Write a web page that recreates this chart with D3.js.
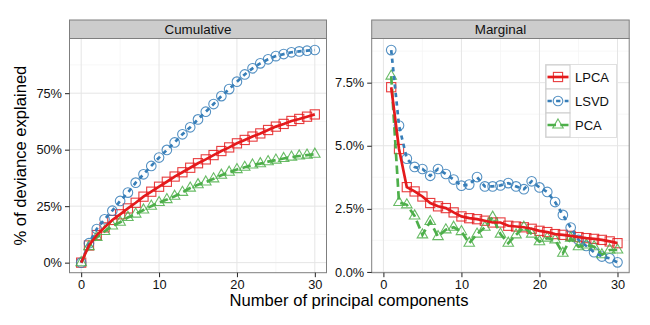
<!DOCTYPE html>
<html><head><meta charset="utf-8">
<script src="https://cdn.jsdelivr.net/npm/d3@7"></script>
<style>body{margin:0;background:#fff}svg{display:block}text{font-family:"Liberation Sans",Arial,sans-serif}</style>
</head><body>
<svg id="c" width="650" height="325"></svg>
<script>
// ---- data (percent) ----
const methods = ["LPCA","LSVD","PCA"];
const cumX = [0,1,2,3,4,5,6,7,8,9,10,11,12,13,14,15,16,17,18,19,20,21,22,23,24,25,26,27,28,29,30];
const margX = [1,2,3,4,5,6,7,8,9,10,11,12,13,14,15,16,17,18,19,20,21,22,23,24,25,26,27,28,29,30];
const cumLPCA = [0,7.6,12.2,15.6,18.9,21.4,24.0,26.5,29.2,31.4,33.6,35.8,38.1,40.0,42.0,44.0,45.7,47.6,49.4,51.0,52.8,54.3,55.8,57.2,58.7,60.2,61.4,62.7,63.6,64.6,65.6];
const cumLSVD = [0,8.6,14.9,19.2,23.0,27.3,31.0,35.4,39.1,42.8,46.5,49.9,53.2,56.8,59.9,63.4,66.8,70.2,73.7,76.8,80.1,83.3,86.0,88.2,90.0,91.4,92.3,93.1,93.5,93.8,94.1];
const cumPCA = [0,7.1,11.2,13.8,16.2,17.9,20.0,21.5,23.3,25.0,26.6,27.9,29.4,31.1,33.0,34.5,35.7,37.1,38.7,40.0,41.2,42.2,43.2,43.8,44.7,45.4,46.1,46.7,47.2,47.6,48.0];
const margLPCA = [7.32,4.87,3.36,3.19,2.99,2.73,2.60,2.53,2.36,2.20,2.13,2.09,2.03,1.96,1.96,1.83,1.80,1.77,1.71,1.63,1.58,1.50,1.47,1.43,1.38,1.34,1.31,1.27,1.21,1.14];
const margLSVD = [8.79,5.80,4.49,4.16,4.08,3.81,4.08,3.88,3.66,3.42,3.46,3.76,3.39,3.39,3.43,3.52,3.39,3.28,3.59,3.35,3.17,2.77,2.26,1.76,1.27,1.03,0.78,0.61,0.54,0.38];
const margPCA = [7.76,2.75,2.66,2.22,1.47,2.00,1.40,1.67,1.77,1.60,1.14,1.50,1.77,2.17,1.50,1.14,1.47,1.77,1.50,1.20,1.34,1.27,0.74,1.34,1.00,1.07,1.00,0.68,0.87,0.87];
const xTicks = [0,10,20,30];
const yTicksL = [0,25,50,75];
const yTicksR = [0,2.5,5,7.5];
const yLabelsL = ["0%","25%","50%","75%"];
const yLabelsR = ["0.0%","2.5%","5.0%","7.5%"];

// ---- styles ----
const colors = {LPCA:"#E41A1C", LSVD:"#377EB8", PCA:"#4DAF4A"};
const dashes = {LPCA:null, LSVD:"4.3,4.3", PCA:"8.5,4.3"};
const svg = d3.select("#c");

const pTop = 38.5, pBottom = 272.7;
const panels = [
  {title:"Cumulative", x0:69.5, x1:326.5, ydom:[-4.45,99.2], ticks:yTicksL, labels:yLabelsL,
   minor:[12.5,37.5,62.5,87.5], xs:cumX, data:{LPCA:cumLPCA,LSVD:cumLSVD,PCA:cumPCA}},
  {title:"Marginal", x0:371.7, x1:629.2, ydom:[-0.03,9.25], ticks:yTicksR, labels:yLabelsR,
   minor:[1.25,3.75,6.25,8.75], xs:margX, data:{LPCA:margLPCA,LSVD:margLSVD,PCA:margPCA}}
];

function marker(g, m, cx, cy, col){
  if(m==="LSVD"){
    g.append("circle").attr("cx",cx).attr("cy",cy).attr("r",4.8)
     .attr("fill","none").attr("stroke",col).attr("stroke-width",1.1).attr("stroke-opacity",0.85);
  } else if(m==="LPCA"){
    g.append("rect").attr("x",cx-4.6).attr("y",cy-4.6).attr("width",9.2).attr("height",9.2)
     .attr("fill","none").attr("stroke",col).attr("stroke-width",1.1).attr("stroke-opacity",0.85);
  } else {
    const s=10.5, h=s*Math.sqrt(3)/2;
    g.append("path").attr("d",`M${cx},${cy-h*2/3}L${cx+s/2},${cy+h/3}L${cx-s/2},${cy+h/3}Z`)
     .attr("fill","none").attr("stroke",col).attr("stroke-width",1.1).attr("stroke-opacity",0.85);
  }
}

panels.forEach(p=>{
  const x = d3.scaleLinear().domain([-1.5,31.5]).range([p.x0,p.x1]);
  const y = d3.scaleLinear().domain(p.ydom).range([pBottom,pTop]);
  const g = svg.append("g");
  g.append("rect").attr("x",p.x0).attr("y",pTop).attr("width",p.x1-p.x0).attr("height",pBottom-pTop).attr("fill","#fff");
  [5,15,25].forEach(v=>g.append("line").attr("x1",x(v)).attr("x2",x(v)).attr("y1",pTop).attr("y2",pBottom).attr("stroke","#F5F5F5").attr("stroke-width",0.8));
  p.minor.forEach(v=>g.append("line").attr("x1",p.x0).attr("x2",p.x1).attr("y1",y(v)).attr("y2",y(v)).attr("stroke","#F5F5F5").attr("stroke-width",0.8));
  xTicks.forEach(v=>g.append("line").attr("x1",x(v)).attr("x2",x(v)).attr("y1",pTop).attr("y2",pBottom).attr("stroke","#E5E5E5").attr("stroke-width",1));
  p.ticks.forEach(v=>g.append("line").attr("x1",p.x0).attr("x2",p.x1).attr("y1",y(v)).attr("y2",y(v)).attr("stroke","#E5E5E5").attr("stroke-width",1));
  const clip = "clip"+p.title;
  svg.append("clipPath").attr("id",clip).append("rect").attr("x",p.x0).attr("y",pTop).attr("width",p.x1-p.x0).attr("height",pBottom-pTop);
  const pg = g.append("g").attr("clip-path",`url(#${clip})`);
  methods.forEach(m=>{
    p.data[m].forEach((v,i)=>marker(pg,m,x(p.xs[i]),y(v),colors[m]));
  });
  methods.slice().reverse().forEach(m=>{
    const line = d3.line().x((d,i)=>x(p.xs[i])).y(d=>y(d));
    pg.append("path").attr("d",line(p.data[m])).attr("fill","none").attr("stroke",colors[m])
      .attr("stroke-width",2.7).attr("stroke-dasharray",dashes[m]);
  });
  g.append("rect").attr("x",p.x0).attr("y",pTop).attr("width",p.x1-p.x0).attr("height",pBottom-pTop)
   .attr("fill","none").attr("stroke","#7F7F7F").attr("stroke-width",1);
  g.append("rect").attr("x",p.x0).attr("y",20).attr("width",p.x1-p.x0).attr("height",pTop-20)
   .attr("fill","#CCCCCC").attr("stroke","#7F7F7F").attr("stroke-width",1);
  g.append("text").attr("x",(p.x0+p.x1)/2).attr("y",34).attr("text-anchor","middle")
   .attr("font-size",13.4).attr("fill","#111").text(p.title);
  const ax = d3.axisBottom(x).tickValues(xTicks).tickSize(4.5).tickSizeOuter(0).tickPadding(3);
  const axg = svg.append("g").attr("transform",`translate(0,${pBottom})`).call(ax);
  axg.select(".domain").remove();
  axg.selectAll("text").attr("font-size",12.8).attr("fill","#111").attr("font-family","Liberation Sans, Arial, sans-serif");
  axg.selectAll("line").attr("stroke","#222");
  const ay = d3.axisLeft(y).tickValues(p.ticks).tickFormat((d,i)=>p.labels[i]).tickSize(4.5).tickPadding(3);
  const ayg = svg.append("g").attr("transform",`translate(${p.x0},0)`).call(ay);
  ayg.select(".domain").remove();
  ayg.selectAll("text").attr("font-size",12.8).attr("fill","#111").attr("font-family","Liberation Sans, Arial, sans-serif");
  ayg.selectAll("line").attr("stroke","#222");
});

svg.append("text").attr("x",349).attr("y",306).attr("text-anchor","middle").attr("font-size",16.6).attr("fill","#000")
  .text("Number of principal components");
svg.append("text").attr("transform","translate(26,155.6) rotate(-90)").attr("text-anchor","middle").attr("font-size",16.6).attr("fill","#000")
  .text("% of deviance explained");

const lg = svg.append("g");
const lx = 546, ly = 65, ks = 24;
lg.append("rect").attr("x",lx-0.5).attr("y",ly-0.5).attr("width",ks+47).attr("height",ks*3+1).attr("fill","#fff").attr("stroke","#E0E0E0");
methods.forEach((m,i)=>{
  const yy = ly + i*ks;
  lg.append("rect").attr("x",lx).attr("y",yy).attr("width",ks).attr("height",ks).attr("fill","#fff").attr("stroke","#CCCCCC").attr("stroke-width",1);
  marker(lg,m,lx+ks/2,yy+ks/2,colors[m]);
  lg.append("line").attr("x1",lx+1.5).attr("x2",lx+ks-1.5).attr("y1",yy+ks/2).attr("y2",yy+ks/2)
    .attr("stroke",colors[m]).attr("stroke-width",2.7).attr("stroke-dasharray",dashes[m]);
  lg.append("text").attr("x",lx+ks+5).attr("y",yy+ks/2+4.6).attr("font-size",13).attr("fill","#111").text(m);
});
</script>
</body></html>
